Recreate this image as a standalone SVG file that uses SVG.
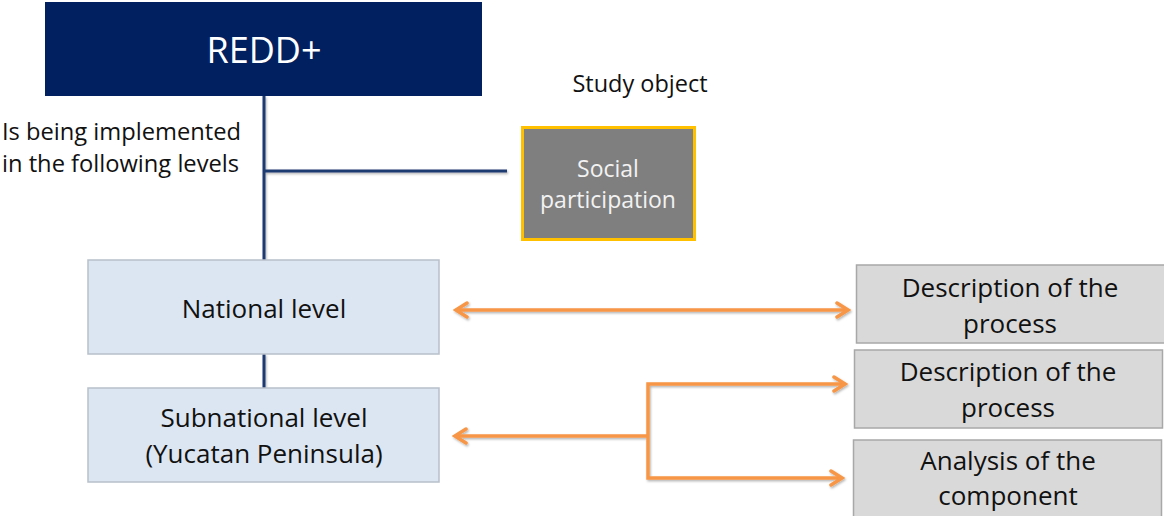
<svg xmlns="http://www.w3.org/2000/svg" width="1164" height="516" viewBox="0 0 1164 516">
<style>
text{font-family:"Open Sans","Liberation Sans",sans-serif;fill:#111;}
.c{text-anchor:middle;}
.lvl{fill:#dce6f2;stroke:#b8c0ca;stroke-width:1.5;}
.gry{fill:#d9d9d9;stroke:#a8a8a8;stroke-width:1.5;}
.navy{stroke:#1e3a70;stroke-width:3;fill:none;}
.or{stroke:#f79646;stroke-width:3.5;fill:none;}
</style>
<defs>
<filter id="sh" x="-5%" y="-20%" width="110%" height="140%">
<feDropShadow dx="1" dy="1.5" stdDeviation="1" flood-color="#000" flood-opacity="0.3"/>
</filter>
<marker id="ah" viewBox="0 0 16 18" refX="13" refY="9" markerWidth="16" markerHeight="18" markerUnits="userSpaceOnUse" orient="auto-start-reverse">
<path d="M2,2 L13,9 L2,16" fill="none" stroke="#f79646" stroke-width="3.5" stroke-linejoin="miter" stroke-linecap="round"/>
</marker>
</defs>
<rect width="1164" height="516" fill="#ffffff"/>

<g id="connectors">
<g filter="url(#sh)">
<line class="navy" x1="264" y1="96" x2="264" y2="260"/>
<line class="navy" x1="264" y1="171" x2="507" y2="171"/>
<line class="navy" x1="264" y1="354" x2="264" y2="388"/>
</g>
<g filter="url(#sh)">
<line class="or" x1="456" y1="310" x2="848" y2="310" marker-start="url(#ah)" marker-end="url(#ah)"/>
<line class="or" x1="648" y1="436" x2="455" y2="436" marker-end="url(#ah)"/>
<polyline class="or" points="845,384 648,384 648,478 842,478" marker-start="url(#ah)" marker-end="url(#ah)"/>
</g>
</g>

<g id="redd">
<rect x="45" y="2" width="437" height="94" fill="#002060"/>
<text class="c" x="264" y="63" font-size="36" style="fill:#ffffff">REDD+</text>
</g>

<g id="label-levels">
<text x="2" y="140" font-size="23.7">Is being implemented</text>
<text x="2" y="172" font-size="23.7">in the following levels</text>
</g>

<g id="label-study">
<text x="640" y="92" font-size="23.5" class="c">Study object</text>
</g>

<g id="social">
<rect x="522.5" y="127.5" width="172" height="112" fill="#7f7f7f" stroke="#ffc000" stroke-width="3"/>
<text class="c" x="608" y="177" font-size="23" style="fill:#f2f2f2">Social</text>
<text class="c" x="608" y="208" font-size="23" style="fill:#f2f2f2">participation</text>
</g>

<g id="national">
<rect class="lvl" x="88" y="260" width="351" height="94"/>
<text class="c" x="264" y="318" font-size="26">National level</text>
</g>

<g id="subnational">
<rect class="lvl" x="88" y="388" width="351" height="94"/>
<text class="c" x="264" y="427" font-size="26">Subnational level</text>
<text class="c" x="264" y="463" font-size="26">(Yucatan Peninsula)</text>
</g>

<g id="desc1">
<rect class="gry" x="856.5" y="265" width="310" height="78"/>
<text class="c" x="1010" y="297" font-size="26">Description of the</text>
<text class="c" x="1010" y="333" font-size="26">process</text>
</g>

<g id="desc2">
<rect class="gry" x="854.5" y="350" width="308" height="78"/>
<text class="c" x="1008" y="381" font-size="26">Description of the</text>
<text class="c" x="1008" y="417" font-size="26">process</text>
</g>

<g id="analysis">
<rect class="gry" x="853.5" y="440" width="308" height="80"/>
<text class="c" x="1008" y="470" font-size="26">Analysis of the</text>
<text class="c" x="1008" y="505" font-size="26">component</text>
</g>
</svg>
